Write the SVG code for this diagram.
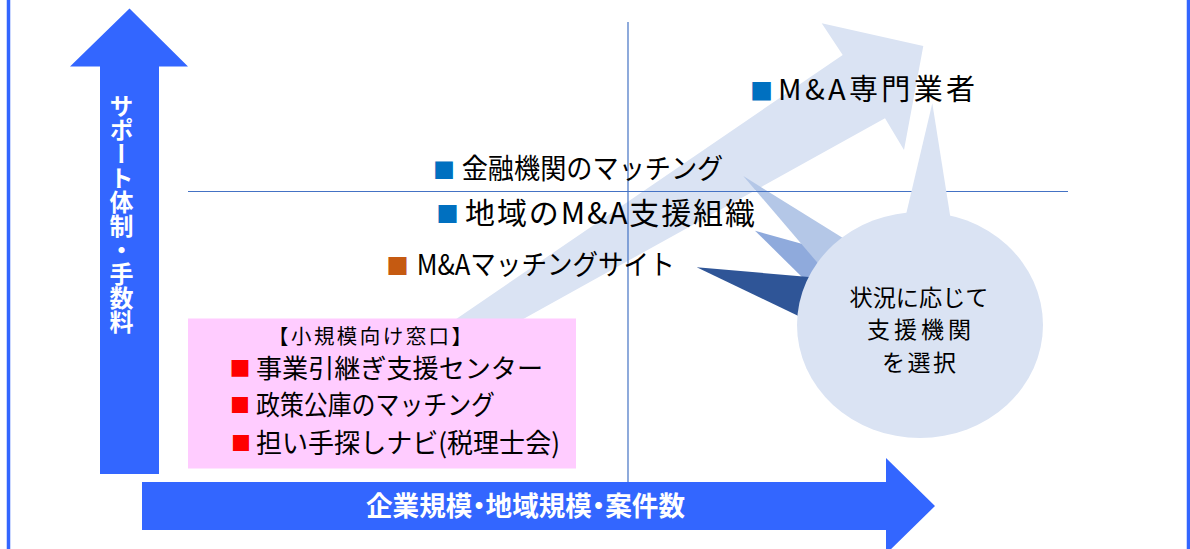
<svg xmlns="http://www.w3.org/2000/svg" width="1190" height="549" viewBox="0 0 1190 549">
<style>
text{font-family:"Noto Sans CJK JP","Noto Sans",sans-serif;fill:#000}
.blt{text-anchor:middle;dominant-baseline:central}
.b-blue{fill:#0070C0}
.b-org{fill:#C55A11}
.b-red{fill:#FF0000}
.axis{fill:#3366FF}
.grid{stroke:#4472C4;stroke-width:1.2;fill:none}
.frame{stroke:#3366FF;stroke-width:3.5}
.wt{fill:#FFFFFF;font-weight:bold}
.co{font-size:23px;text-anchor:middle}
</style>

<g id="frame">
<line class="frame" x1="8.5" y1="0" x2="8.5" y2="549"/>
<line class="frame" x1="1188.5" y1="0" x2="1188.5" y2="549"/>
</g>

<g id="trend-arrow">
<polygon fill="#DAE3F3" points="279,440 842.7,55 821.7,23.3 923.3,46 904,150 885,118.3 305,440"/>
</g>

<g id="callout-pointers">
<polygon fill="#8FAADC" points="755,230.7 860,260 840,314.5"/>
<polygon fill="#B4C7E7" points="743.3,176 870.3,255 840.2,289.3"/>
<polygon fill="#2F5597" points="696.7,267.3 850,280.5 850,340.7"/>
</g>

<g id="connectors">
<line class="grid" x1="188" y1="191.5" x2="1068" y2="191.5"/>
<line class="grid" x1="628" y1="22" x2="628" y2="482"/>
</g>

<g id="callout">
<polygon fill="#DAE3F3" points="900,240 932.3,103.3 954,240"/>
<ellipse cx="920" cy="325" rx="123" ry="113" fill="#DAE3F3"/>
<text class="co" x="919" y="306" textLength="139" lengthAdjust="spacingAndGlyphs">状況に応じて</text>
<text class="co" x="919" y="338" textLength="104" lengthAdjust="spacing">支援機関</text>
<text class="co" x="919" y="370.5" textLength="74" lengthAdjust="spacing">を選択</text>
</g>

<g id="y-axis">
<polygon class="axis" points="129.5,8.5 188,66.5 159,66.5 159,474 100,474 100,66.5 70,66.5"/>
<text class="wt" x="121.5" y="93.5" style="writing-mode:vertical-rl;font-size:24px" textLength="240" lengthAdjust="spacing">サポート体制・手数料</text>
</g>

<g id="x-axis">
<polygon class="axis" points="142,482 886,482 886,458 935,506 886,554 886,530 142,530"/>
<text class="wt" x="366" y="516" style="font-size:27px;font-feature-settings:'palt'" textLength="319" lengthAdjust="spacingAndGlyphs">企業規模・地域規模・案件数</text>
</g>

<g id="node-ma-specialist">
<text class="blt b-blue" x="761.5" y="90" style="font-size:23px">■</text>
<text x="778" y="100" style="font-size:29px" textLength="197" lengthAdjust="spacing">M&amp;A専門業者</text>
</g>

<g id="node-bank-matching">
<text class="blt b-blue" x="444" y="168.3" style="font-size:22px">■</text>
<text x="461.7" y="178.5" style="font-size:28px" textLength="261.6" lengthAdjust="spacingAndGlyphs">金融機関のマッチング</text>
</g>

<g id="node-regional-org">
<text class="blt b-blue" x="447.5" y="212.9" style="font-size:22.5px">■</text>
<text x="465" y="224" style="font-size:30px" textLength="290" lengthAdjust="spacing">地域のM&amp;A支援組織</text>
</g>

<g id="node-matching-site">
<text class="blt b-org" x="397.5" y="264.7" style="font-size:22.5px">■</text>
<text x="416.7" y="275" style="font-size:28px" textLength="258" lengthAdjust="spacingAndGlyphs">M&amp;Aマッチングサイト</text>
</g>

<g id="node-small-scale">
<rect x="188" y="318.5" width="388" height="150" fill="#FFCCFF"/>
<text x="268" y="344" style="font-size:20.5px" textLength="204" lengthAdjust="spacing">【小規模向け窓口】</text>
<text class="blt b-red" x="240" y="367" style="font-size:21px">■</text>
<text x="256" y="378" style="font-size:26px" textLength="287" lengthAdjust="spacingAndGlyphs">事業引継ぎ支援センター</text>
<text class="blt b-red" x="240" y="404.2" style="font-size:20px">■</text>
<text x="256" y="415" style="font-size:27px" textLength="239" lengthAdjust="spacingAndGlyphs">政策公庫のマッチング</text>
<text class="blt b-red" x="241" y="442.5" style="font-size:20px">■</text>
<text x="256" y="453" style="font-size:27px" textLength="304" lengthAdjust="spacingAndGlyphs">担い手探しナビ(税理士会)</text>
</g>
</svg>
